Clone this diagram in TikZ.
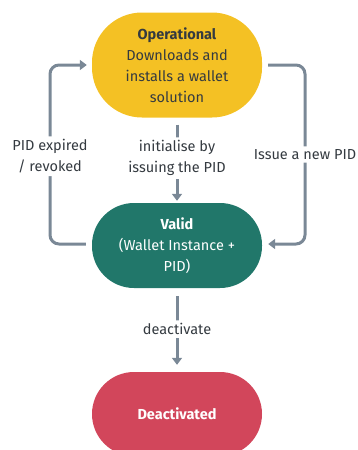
\documentclass[tikz,border=0pt]{standalone}
\usepackage{fontspec}
\setmainfont{Fira Sans}
\usetikzlibrary{arrows.meta}
\definecolor{opyellow}{HTML}{F4C124}
\definecolor{validgreen}{HTML}{21776A}
\definecolor{deadred}{HTML}{D2465B}
\definecolor{linkgray}{HTML}{7A8896}
\definecolor{txtgray}{HTML}{343A40}
\tikzset{
  state/.style={rounded corners=42pt, minimum width=170pt, align=center, inner sep=0pt,
    font=\fontsize{14.5}{21}\selectfont},
  link/.style={draw=linkgray, line width=3pt, rounded corners=9pt,
    -{Triangle[width=10pt,length=7pt]}},
  lbl/.style={fill=white, text=txtgray, align=center, inner sep=3pt,
    font=\fontsize{14.5}{21}\selectfont}
}
\begin{document}
\begin{tikzpicture}[x=1pt,y=-1pt]
\path[use as bounding box] (0,0) rectangle (358,450);
\clip (0,0) rectangle (358,450);
\node[state, fill=opyellow, text=txtgray, minimum height=105pt, rounded corners=50pt] (op) at (177,65)
  {\textbf{Operational}\\Downloads and\\installs a wallet\\solution};
\node[state, fill=validgreen, text=white, minimum height=85pt] (val) at (177,245.5)
  {\textbf{Valid}\\(Wallet Instance +\\PID)};
\node[state, fill=deadred, text=white, minimum height=84pt] (dead) at (177,414)
  {\textbf{Deactivated}};
\coordinate (lb) at (50,244);
\coordinate (lt) at (50,65);
\coordinate (rt) at (305,65);
\coordinate (rb) at (305,244);
\draw[link] ([xshift=-6pt]val.west |- lb) -- (lb) -- node[lbl, pos=0.49] {PID expired\\/ revoked} (lt) -- ([xshift=-5pt]op.west |- lt);
\draw[link] ([xshift=6pt]op.east |- rt) -- (rt) -- node[lbl, pos=0.5] {Issue a new PID} (rb) -- ([xshift=6pt]val.east |- rb);
\draw[link] ([yshift=-7pt]op.south) -- node[lbl, pos=0.44] {initialise by\\issuing the PID} ([yshift=2pt]val.north);
\draw[link] ([yshift=-8pt]val.south) -- node[lbl, pos=0.48] {deactivate} ([yshift=7pt]dead.north);
\end{tikzpicture}
\end{document}
